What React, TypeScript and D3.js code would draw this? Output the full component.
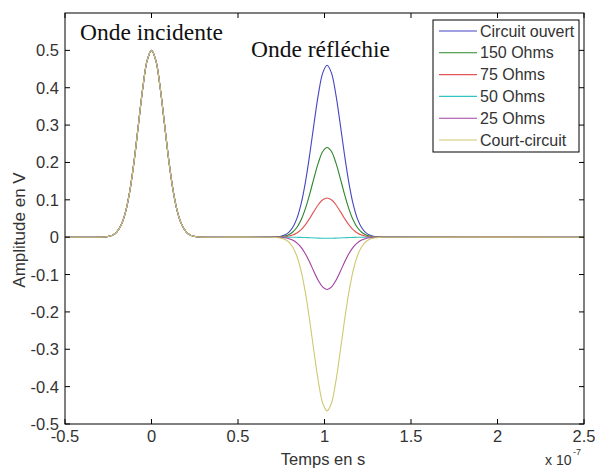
import React from "react";
import * as d3 from "d3";

// Pulse shape (normalized amplitude vs offset in 1e-7 s)
const offsets = [-0.35, -0.325, -0.3, -0.275, -0.25, -0.225, -0.2, -0.175, -0.15, -0.125, -0.1, -0.075, -0.05, -0.025, 0,
  0.025, 0.05, 0.075, 0.1, 0.125, 0.15, 0.175, 0.2, 0.225, 0.25, 0.275, 0.3, 0.325, 0.35];
const incidentShape = [0, 0, 0.0003, 0.0012, 0.004, 0.011, 0.029, 0.066, 0.135, 0.249, 0.411, 0.607, 0.801, 0.946, 1,
  0.946, 0.801, 0.607, 0.411, 0.249, 0.135, 0.066, 0.029, 0.011, 0.004, 0.0012, 0.0003, 0, 0];
const reflectedShape = [0.0001, 0.0005, 0.0015, 0.004, 0.011, 0.025, 0.055, 0.108, 0.195, 0.322, 0.484, 0.665, 0.834, 0.956, 1,
  0.956, 0.834, 0.665, 0.484, 0.322, 0.195, 0.108, 0.055, 0.025, 0.011, 0.004, 0.0015, 0.0005, 0.0001];

const incidentCenter = 0;
const incidentPeak = 0.5;
const reflectedCenter = 1.015;

const seriesNames = ["Circuit ouvert", "150 Ohms", "75 Ohms", "50 Ohms", "25 Ohms", "Court-circuit"];
const reflectedPeaks = [0.46, 0.24, 0.105, -0.003, -0.14, -0.465];
const seriesColors = ["#4444c4", "#2b862b", "#e25555", "#33c2c2", "#a040a0", "#cfc870"];

const xTicks = [-0.5, 0, 0.5, 1, 1.5, 2, 2.5];
const yTicks = [-0.5, -0.4, -0.3, -0.2, -0.1, 0, 0.1, 0.2, 0.3, 0.4, 0.5];
const xDomain = [-0.5, 2.5];
const yDomain = [-0.5, 0.6];

const W = 595, H = 468;
const left = 65, right = 584, top = 13, bottom = 424;

export default function App() {
  const x = d3.scaleLinear().domain(xDomain).range([left, right]);
  const y = d3.scaleLinear().domain(yDomain).range([bottom, top]);

  const buildSeries = (peak: number): [number, number][] => {
    const pts: [number, number][] = [[xDomain[0], 0]];
    offsets.forEach((o, i) => pts.push([incidentCenter + o, incidentPeak * incidentShape[i]]));
    offsets.forEach((o, i) => pts.push([reflectedCenter + o, peak * reflectedShape[i]]));
    pts.push([xDomain[1], 0]);
    return pts;
  };

  const line = d3.line<[number, number]>()
    .x(d => x(d[0]))
    .y(d => y(d[1]))
    .curve(d3.curveCatmullRom);

  const fmt = (v: number) => {
    const s = d3.format("")(+v.toFixed(1));
    return s.replace("−", "-");
  };

  const tickLen = 5;
  const sans = "Liberation Sans, Arial, sans-serif";
  const serif = "Liberation Serif, Times New Roman, serif";

  const legX = 433, legY = 20, legW = 146, legH = 132;
  const rowH = 21.8;

  return (
    <svg width={W} height={H} style={{ position: "absolute", left: 0, top: 0, background: "#fff" }}>
      <rect x={0} y={0} width={W} height={H} fill="#fff" />
      <g>
        {seriesNames.map((n, i) => (
          <path key={n} d={line(buildSeries(reflectedPeaks[i])) || ""} fill="none"
            stroke={seriesColors[i]} strokeWidth={1.1} />
        ))}
      </g>
      {/* axes box */}
      <rect x={left} y={top} width={right - left} height={bottom - top} fill="none" stroke="#000" strokeWidth={1} />
      {xTicks.map(t => (
        <g key={"x" + t}>
          <line x1={x(t)} x2={x(t)} y1={bottom} y2={bottom - tickLen} stroke="#000" />
          <line x1={x(t)} x2={x(t)} y1={top} y2={top + tickLen} stroke="#000" />
          <text x={x(t)} y={442} textAnchor="middle" fontFamily={sans} fontSize={16.5} fill="#333">{fmt(t)}</text>
        </g>
      ))}
      {yTicks.map(t => (
        <g key={"y" + t}>
          <line x1={left} x2={left + tickLen} y1={y(t)} y2={y(t)} stroke="#000" />
          <line x1={right} x2={right - tickLen} y1={y(t)} y2={y(t)} stroke="#000" />
          <text x={left - 6} y={y(t) + 6} textAnchor="end" fontFamily={sans} fontSize={16.5} fill="#333">{fmt(t)}</text>
        </g>
      ))}
      <text x={323} y={465} textAnchor="middle" fontFamily={sans} fontSize={16.5} fill="#333">Temps en s</text>
      <text x={545} y={465} fontFamily={sans} fontSize={14} fill="#333">x 10</text>
      <text x={573} y={455} fontFamily={sans} fontSize={9} fill="#333">-7</text>
      <text transform={`translate(25,${230}) rotate(-90)`} textAnchor="middle" fontFamily={sans} fontSize={17} fill="#333">Amplitude en V</text>

      <text x={80} y={40} fontFamily={serif} fontSize={23.5} fill="#111">Onde incidente</text>
      <text x={251} y={57} fontFamily={serif} fontSize={23.5} fill="#111">Onde réfléchie</text>

      {/* legend */}
      <rect x={legX} y={legY} width={legW} height={legH} fill="#fff" stroke="#000" strokeWidth={1} />
      {seriesNames.map((n, i) => {
        const cy = 31 + i * rowH;
        return (
          <g key={"l" + n}>
            <line x1={439} x2={477} y1={cy} y2={cy} stroke={seriesColors[i]} strokeWidth={1.1} />
            <text x={480} y={cy + 5.5} fontFamily={sans} fontSize={16} fill="#333">{n}</text>
          </g>
        );
      })}
    </svg>
  );
}
